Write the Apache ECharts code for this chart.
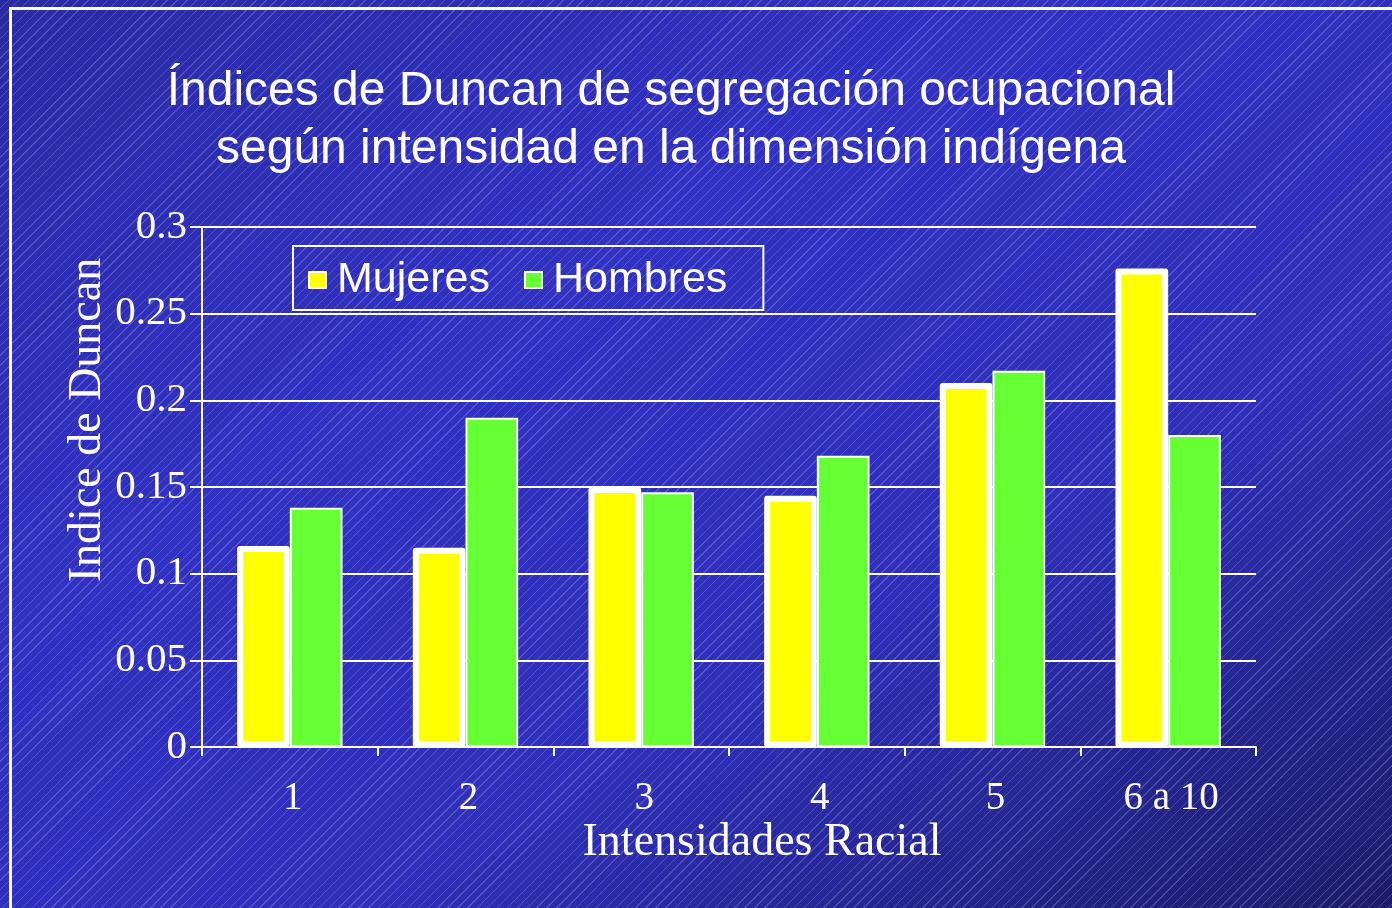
<!DOCTYPE html>
<html>
<head>
<meta charset="utf-8">
<script src="https://cdn.jsdelivr.net/npm/echarts@6/dist/echarts.min.js"></script>
<style>
  html, body { margin: 0; padding: 0; }
  body {
    width: 1392px; height: 908px; overflow: hidden; position: relative;
    background:
      repeating-linear-gradient(135deg, rgba(255,255,255,0) 0px, rgba(255,255,255,0) 6px, rgba(190,190,255,0.25) 6px, rgba(190,190,255,0.25) 7px),
      linear-gradient(150deg, #2a2aa4 0%, #3131c2 35%, #2f2fba 65%, #1c1c68 100%);
  }
  #frame {
    position: absolute; left: 9px; top: 7px; right: -10px; bottom: -10px;
    border-left: 3px solid #fff; border-top: 3px solid #fff;
  }
  #main { position: absolute; left: 0; top: 0; width: 1392px; height: 908px; }
</style>
</head>
<body>
<div id="frame"></div>
<div id="main"></div>
<script>
// categorias del eje X
const categorias = ['1', '2', '3', '4', '5', '6 a 10'];
// indices de Duncan por sexo
const mujeres = [0.116, 0.115, 0.150, 0.145, 0.210, 0.276];
const hombres = [0.138, 0.190, 0.147, 0.168, 0.217, 0.180];

const serif = '"Liberation Serif", "DejaVu Serif", serif';
const sans = '"Liberation Sans", Arial, sans-serif';

let myChart = echarts.init(document.getElementById('main'));

let option = {
    backgroundColor: 'transparent',
    animation: false,
    title: {
        text: 'Índices de Duncan de segregación ocupacional\nsegún intensidad en la dimensión indígena',
        left: 666,
        textAlign: 'center',
        top: 58,
        textStyle: {
            color: '#fff',
            fontFamily: sans,
            fontWeight: 'normal',
            fontSize: 48,
            lineHeight: 58
        }
    },
    legend: {
        data: ['Mujeres', 'Hombres'],
        left: 293,
        top: 246,
        orient: 'horizontal',
        borderColor: '#fff',
        borderWidth: 2,
        padding: [8, 36, 4, 15],
        itemGap: 34,
        itemWidth: 17,
        itemHeight: 16,
        icon: 'rect',
        textStyle: {
            color: '#fff',
            fontFamily: sans,
            fontSize: 43,
            lineHeight: 44,
            padding: [8, 0, 0, 6]
        }
    },
    grid: {
        left: 202,
        right: 136,
        top: 227,
        bottom: 161
    },
    xAxis: {
        type: 'category',
        data: categorias,
        axisLine: { lineStyle: { color: '#fff', width: 2 } },
        axisTick: { show: true, length: 9, lineStyle: { color: '#fff', width: 2 } },
        axisLabel: {
            color: '#fff',
            fontFamily: serif,
            fontSize: 39,
            margin: 32,
            padding: [0, 0, 0, 6]
        }
    },
    yAxis: {
        type: 'value',
        min: 0,
        max: 0.3,
        interval: 0.05,
        axisLine: { show: true, lineStyle: { color: '#fff', width: 2 } },
        axisTick: { show: true, length: 12, lineStyle: { color: '#fff', width: 2 } },
        splitLine: { lineStyle: { color: '#fff', width: 2 } },
        axisLabel: {
            color: '#fff',
            fontFamily: serif,
            fontSize: 41,
            margin: 15
        }
    },
    graphic: [
        {
            type: 'text',
            x: 88,
            y: 420,
            rotation: Math.PI / 2,
            style: {
                text: 'Indice de Duncan',
                fill: '#fff',
                font: '46px ' + serif,
                textAlign: 'center',
                textVerticalAlign: 'middle'
            }
        },
        {
            type: 'text',
            x: 762,
            y: 843,
            style: {
                text: 'Intensidades Racial',
                fill: '#fff',
                font: '46px ' + serif,
                textAlign: 'center',
                textVerticalAlign: 'middle'
            }
        }
    ],
    series: [
        {
            name: 'Mujeres',
            type: 'bar',
            data: mujeres,
            barGap: '0%',
            barCategoryGap: '40%',
            itemStyle: {
                color: '#ffff00',
                borderColor: '#fff',
                borderWidth: 6,
                borderJoin: 'round'
            }
        },
        {
            name: 'Hombres',
            type: 'bar',
            data: hombres,
            itemStyle: {
                color: '#66ff33',
                borderColor: '#fff',
                borderWidth: 2
            }
        }
    ]
};
option && myChart.setOption(option);
</script>
</body>
</html>
